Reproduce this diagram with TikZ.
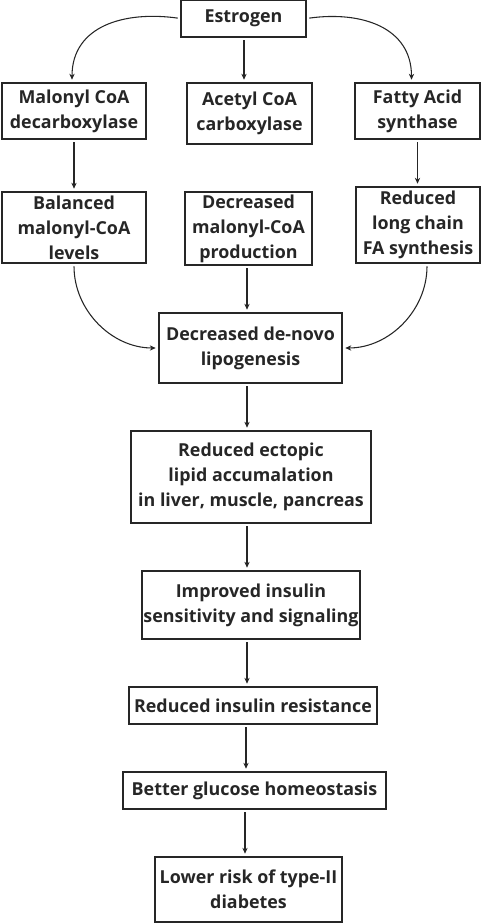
\documentclass[tikz,border=0pt]{standalone}
\usepackage{fontspec}
\setmainfont{Open Sans}
\usetikzlibrary{arrows.meta,calc}

\begin{document}
\begin{tikzpicture}[x=0.75pt, y=-0.75pt,
  box/.style={draw=black!85, line width=0.9pt, align=center, inner sep=0pt,
    font=\bfseries\fontsize{13.4}{18.75}\selectfont, text=black!85},
  arr/.style={-{Stealth[length=4.5pt,width=4pt]}, line width=0.8pt, draw=black!85,
    shorten <=2pt, shorten >=2pt}]
  % 1. Khung hinh
  \useasboundingbox (0,0) rectangle (482,923);

  % 2. Hang tren cung
  \node[box, minimum width=93.75pt, minimum height=27.75pt] (est) at (243.5,18.5) {Estrogen};

  % 3. Ba enzyme
  \node[box, minimum width=108pt, minimum height=42pt] (mcd) at (74,111) {Malonyl CoA\\decarboxylase};
  \node[box, minimum width=93.75pt, minimum height=45.75pt] (acc) at (249.5,113.5) {Acetyl CoA\\carboxylase};
  \node[box, minimum width=93.75pt, minimum height=42pt] (fas) at (417.5,111) {Fatty Acid\\synthase};

  % 4. Tac dong cua tung enzyme
  \node[box, minimum width=108pt, minimum height=53.25pt] (bal) at (74,227.5) {Balanced\\malonyl-CoA\\levels};
  \node[box, minimum width=95.25pt, minimum height=54.75pt] (dec) at (248.5,228.5) {Decreased\\malonyl-CoA\\production};
  \node[box, minimum width=93pt, minimum height=57pt] (rlc) at (418,225) {Reduced\\long chain\\FA synthesis};

  % 5. Chuoi ket qua o giua
  \node[box, minimum width=137.25pt, minimum height=52.5pt] (dnl) at (250.5,348) {Decreased de-novo\\lipogenesis};
  \node[box, minimum width=180pt, minimum height=69pt] (ect) at (251,477) {Reduced ectopic\\lipid accumalation\\in liver, muscle, pancreas};
  \node[box, minimum width=163.5pt, minimum height=51pt] (imp) at (251,605) {Improved insulin\\sensitivity and signaling};
  \node[box, minimum width=186pt, minimum height=27.75pt] (res) at (253,705.5) {Reduced insulin resistance};
  \node[box, minimum width=197.25pt, minimum height=27.75pt] (glu) at (254.5,790.5) {Better glucose homeostasis};
  \node[box, minimum width=140.25pt, minimum height=48.75pt] (low) at (248.5,889.5) {Lower risk of type-II\\diabetes};

  % 6. Mui ten cong
  \draw[arr] (est.west) to[out=172, in=90, looseness=1.15] ($(mcd.north)+(-2,0)$);
  \draw[arr] (est.east) to[out=8, in=90, looseness=1.15] ($(fas.north)+(-6,0)$);
  \draw[arr] (bal.south) to[out=-90, in=180] (dnl.west);
  \draw[arr] ($(rlc.south)+(9,0)$) to[out=-90, in=0] (dnl.east);

  % 7. Mui ten thang
  \draw[arr] (mcd.south) -- (mcd.south |- bal.north);
  \draw[arr] (fas.south) -- (fas.south |- rlc.north);
  \foreach \a/\b/\x in {est/acc/244, dec/dnl/247, dnl/ect/247, ect/imp/247,
                        imp/res/247, res/glu/246, glu/low/245}
    \draw[arr] (\x,0 |- \a.south) -- (\x,0 |- \b.north);
\end{tikzpicture}
\end{document}
